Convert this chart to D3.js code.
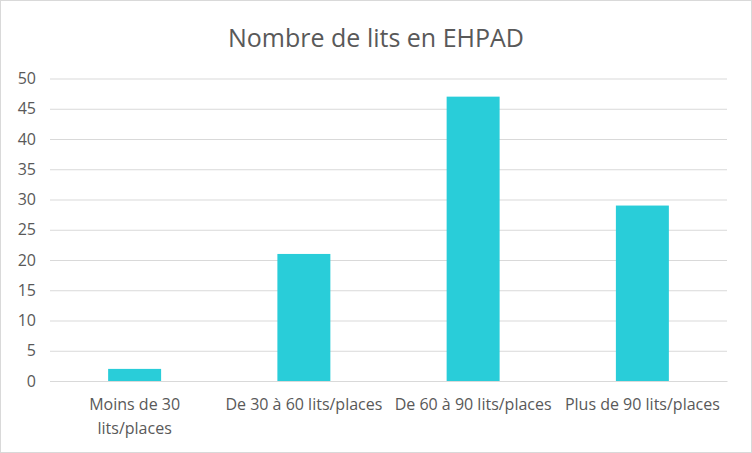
<!DOCTYPE html>
<html><head><meta charset="utf-8">
<script src="https://cdn.jsdelivr.net/npm/d3@7"></script>
<style>
html,body{margin:0;padding:0;background:#fff;}
svg{display:block;}
</style></head>
<body>
<svg id="chart" width="752" height="453"></svg>
<script>
const categories = ["Moins de 30 lits/places", "De 30 à 60 lits/places", "De 60 à 90 lits/places", "Plus de 90 lits/places"];
const values = [2, 21, 47, 29];
const yTicks = [0, 5, 10, 15, 20, 25, 30, 35, 40, 45, 50];
const title = "Nombre de lits en EHPAD";

const W = 752, H = 453;
const font = "'Open Sans', 'Liberation Sans', sans-serif";
const svg = d3.select("#chart");
svg.append("rect").attr("x", 0.5).attr("y", 0.5).attr("width", W - 1).attr("height", H - 1)
  .attr("fill", "#fff").attr("stroke", "#d9d9d9");

const m = {left: 50, right: 25, top: 78.5, bottom: 72};
const x = d3.scaleBand().domain(categories).range([m.left, W - m.right]).paddingInner(0.687).paddingOuter(0.3435);
const y = d3.scaleLinear().domain([0, 50]).range([H - m.bottom, m.top]);

svg.append("text").attr("x", 376).attr("y", 47).attr("text-anchor", "middle")
  .attr("font-family", font).attr("font-size", 25).attr("fill", "#595959").text(title);

const yAxis = svg.append("g").attr("transform", `translate(${m.left},0)`)
  .call(d3.axisLeft(y).tickValues(yTicks).tickSize(-(W - m.left - m.right)).tickPadding(14));
yAxis.select(".domain").remove();
yAxis.selectAll(".tick line").attr("stroke", "#d9d9d9");
yAxis.selectAll(".tick text").attr("font-family", font).attr("font-size", 16).attr("fill", "#595959");

svg.selectAll(".bar").data(values).join("rect").attr("class", "bar")
  .attr("x", (d, i) => x(categories[i])).attr("width", x.bandwidth())
  .attr("y", d => y(d)).attr("height", d => y(0) - y(d)).attr("fill", "#29CDD9");

const xAxis = svg.append("g").attr("transform", `translate(0,${y(0)})`)
  .call(d3.axisBottom(x).tickSize(0).tickPadding(18));
xAxis.select(".domain").attr("stroke", "#d9d9d9");
xAxis.selectAll(".tick text").attr("font-family", font).attr("font-size", 16).attr("fill", "#595959")
  .each(function() {
    const t = d3.select(this), words = t.text().split(" ");
    const maxW = x.step() - 4;
    if (this.getComputedTextLength() <= maxW) return;
    t.text(null);
    let line = [], ts = t.append("tspan").attr("x", 0).attr("dy", "0.71em");
    for (const w of words) {
      line.push(w); ts.text(line.join(" "));
      if (ts.node().getComputedTextLength() > maxW && line.length > 1) {
        line.pop(); ts.text(line.join(" "));
        line = [w];
        ts = t.append("tspan").attr("x", 0).attr("dy", "1.45em").text(w);
      }
    }
  });
</script>
</body></html>
